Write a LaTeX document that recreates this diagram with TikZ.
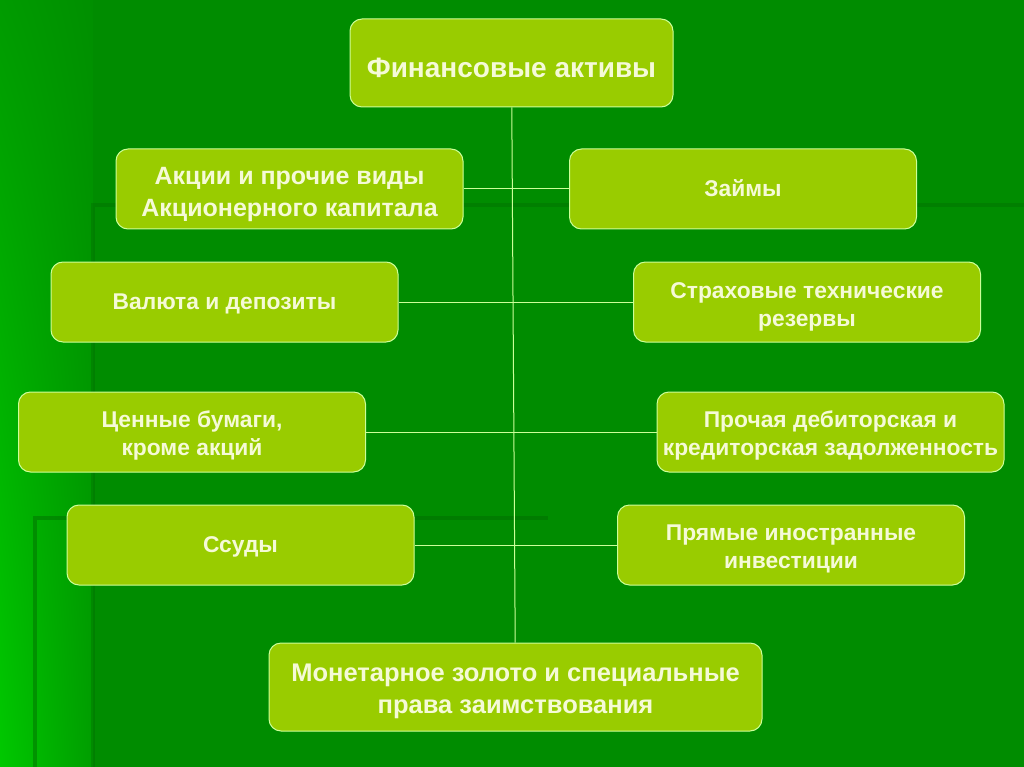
\documentclass[tikz,border=0pt]{standalone}
\usepackage{fontspec}
\setmainfont{Liberation Sans}
\usepackage{tikz}
\usetikzlibrary{shadings}

\definecolor{bgreen}{RGB}{0,140,0}
\definecolor{lgreen}{RGB}{0,200,0}
\definecolor{dgreen}{RGB}{0,105,0}
\definecolor{boxfill}{RGB}{153,204,0}
\definecolor{boxline}{RGB}{204,255,153}
\definecolor{boxtext}{RGB}{245,250,215}

% text of a box, set a little lower than its centre
\newcommand{\btext}[2][-4pt]{\raisebox{#1}[\height][\depth]{\begin{tabular}{@{}c@{}}#2\end{tabular}}}

\begin{document}
\begin{tikzpicture}[x=1pt,y=-1pt]
        \useasboundingbox (0,0) rectangle (1024,767);
        % background
        \fill[bgreen] (0,0) rectangle (1024,767);
        \shade[upper left=bgreen!75!lgreen, lower left=lgreen, upper right=bgreen!95!lgreen, lower right=bgreen!70!lgreen] (0,0) rectangle (93,767);
        \draw[dgreen, line width=4pt, opacity=0.35] (93,767) -- (93,205) -- (1024,205);
        \draw[dgreen, line width=4pt, opacity=0.45] (35,767) -- (35,518) -- (548,518);

        \begin{scope}[every node/.style={fill=boxfill,draw=boxline,rounded corners=12pt,line width=1pt,text=boxtext,inner sep=0pt,minimum height=80pt,minimum width=347pt}]
            \node[minimum width=323pt,minimum height=88pt,font=\bfseries\fontsize{28}{32}\selectfont] (fin) at (511.5,63) {\btext[-8pt]{Финансовые активы}};

            \node[font=\bfseries\fontsize{25}{32}\selectfont] (akc) at (289.5,189) {\btext[-5pt]{Акции и прочие виды\\Акционерного капитала}};
            \node[font=\bfseries\fontsize{22.8}{28}\selectfont] (zaim) at (743,189) {\btext[-1.5pt]{Займы}};

            \node[font=\bfseries\fontsize{22.8}{28}\selectfont] (val) at (224.5,302) {\btext[-1.5pt]{Валюта и депозиты}};
            \node[font=\bfseries\fontsize{22.8}{28}\selectfont] (strah) at (807,302) {\btext[-4.5pt]{Страховые технические\\резервы}};

            \node[font=\bfseries\fontsize{22.8}{28}\selectfont] (cen) at (192,432) {\btext[-3.5pt]{Ценные бумаги,\\кроме акций}};
            \node[font=\bfseries\fontsize{22.8}{28}\selectfont] (proch) at (830.5,432) {\btext[-3.5pt]{Прочая дебиторская и\\кредиторская задолженность}};

            \node[font=\bfseries\fontsize{22.8}{28}\selectfont] (ssud) at (240.5,545) {\btext[-2pt]{Ссуды}};
            \node[font=\bfseries\fontsize{22.8}{28}\selectfont] (pryam) at (791,545) {\btext[-3.5pt]{Прямые иностранные\\инвестиции}};

            \node[minimum width=493pt,minimum height=88pt,font=\bfseries\fontsize{25.5}{32}\selectfont] (mon) at (515.5,687) {\btext[-4.5pt]{Монетарное золото и специальные\\права заимствования}};
        \end{scope}
        \begin{scope}[every edge/.style={draw=boxline,line width=1pt}]
            \path [-] (fin) edge (mon);
            \path [-] (akc) edge (zaim);
            \path [-] (val) edge (strah);
            \path [-] (cen) edge (proch);
            \path [-] (ssud) edge (pryam);
        \end{scope}
    \end{tikzpicture}
\end{document}
